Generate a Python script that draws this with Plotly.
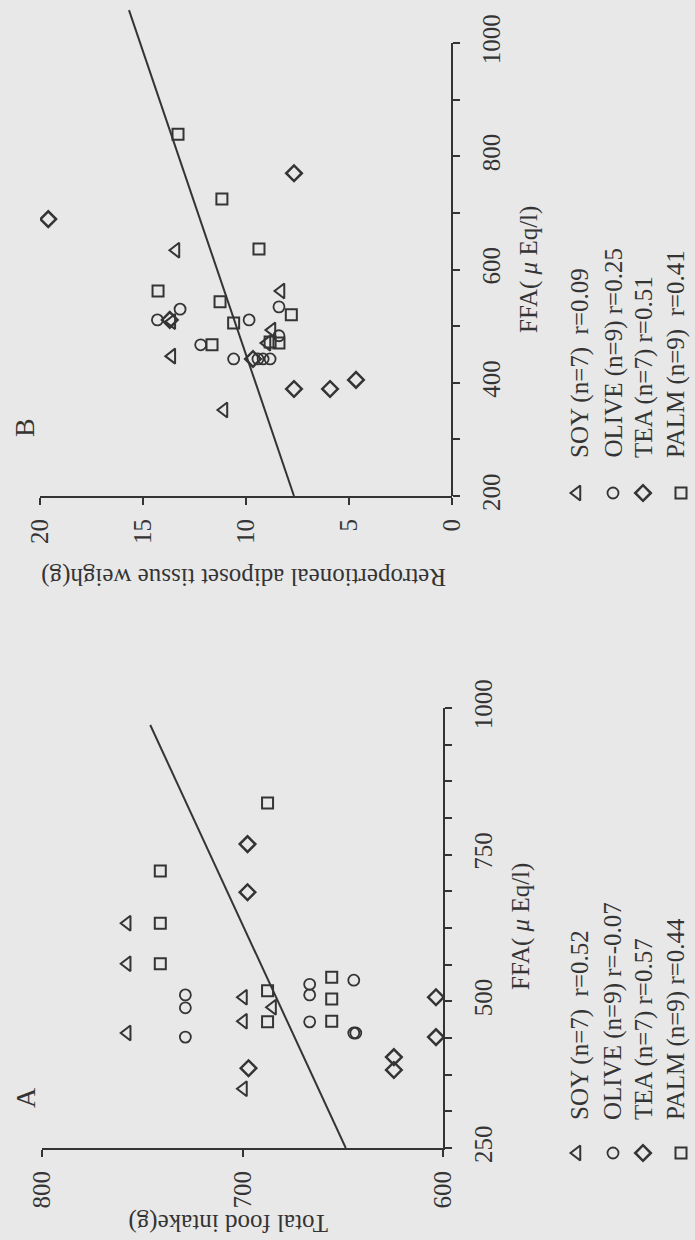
import plotly.graph_objects as go

# ---- Panel A: total food intake vs FFA ----
soy_a_ffa = [633, 564, 446, 507, 466, 351, 490]
soy_a_food = [757.5, 757.5, 757.5, 699.5, 699.5, 699.5, 685]
olive_a_ffa = [511, 489, 439, 529, 511, 465, 536, 446, 446]
olive_a_food = [728.5, 728.5, 728.5, 666.5, 666.5, 666.5, 644.5, 644.5, 643.5]
tea_a_ffa = [768, 686, 386, 405, 383, 507, 439]
tea_a_food = [697.5, 697.5, 697, 624.5, 624.5, 603.5, 603.5]
palm_a_ffa = [722, 838, 633, 564, 518, 465, 541, 504, 466]
palm_a_food = [741, 687.5, 741, 741, 687.5, 687.5, 655.5, 655.5, 655.5]
fit_a_ffa = [250, 971]
fit_a_food = [648.5, 746]

# ---- Panel B: retroperitoneal adipose tissue weight vs FFA ----
soy_b_ffa = [634, 562, 447, 352, 493, 508, 470]
soy_b_wt = [13.4, 8.3, 13.6, 11.07, 8.74, 13.6, 8.98]
olive_b_ffa = [530, 511, 511, 534, 483, 442, 442, 442, 442, 467]
olive_b_wt = [13.2, 14.3, 9.85, 8.4, 8.4, 10.6, 9.42, 9.17, 8.83, 12.2]
tea_b_ffa = [689, 770, 511, 442, 389, 389, 405]
tea_b_wt = [19.6, 7.67, 13.7, 9.66, 7.67, 5.92, 4.66]
palm_b_ffa = [839, 724.5, 562, 543, 636, 505.5, 520, 472, 470, 467]
palm_b_wt = [13.3, 11.17, 14.27, 11.26, 9.37, 10.6, 7.8, 8.83, 8.4, 11.65]
fit_b_ffa = [200, 1058]
fit_b_wt = [7.67, 15.68]

# ---- tick values / labels ----
food_ticks = [600, 700, 800]
ffa_a_ticks = [250 + 62.5 * k for k in range(13)]
ffa_a_labels = ["250", "", "", "", "500", "", "", "", "750", "", "", "", "1000"]
wt_ticks = [0, 5, 10, 15, 20]
ffa_b_ticks = [200, 300, 400, 500, 600, 700, 800, 900, 1000]
ffa_b_labels = ["200", "", "400", "", "600", "", "800", "", "1000"]

groups = ["SOY", "OLIVE", "TEA", "PALM"]
legend_a = ["SOY (n=7)  r=0.52", "OLIVE (n=9) r=-0.07", "TEA (n=7) r=0.57", "PALM (n=9) r=0.44"]
legend_b = ["SOY (n=7)  r=0.09", "OLIVE (n=9) r=0.25", "TEA (n=7) r=0.51", "PALM (n=9)  r=0.41"]

INK = "#343434"
BG = "#e8e8e8"
FONT = "Liberation Serif"
W, H = 695, 1240

symbols = {"SOY": "triangle-left-open", "OLIVE": "circle-open",
           "TEA": "diamond-open", "PALM": "square-open"}
sizes = {"SOY": 13, "OLIVE": 11, "TEA": 12, "PALM": 11}
widths = {"SOY": 2, "OLIVE": 1.8, "TEA": 2.5, "PALM": 2}


def px(x):
    return x / W


def py(y):
    return 1 - y / H


def marker(g):
    return dict(symbol=symbols[g], size=sizes[g], color=INK, line=dict(color=INK, width=widths[g]))


fig = go.Figure()

a_data = {"SOY": (soy_a_food, soy_a_ffa), "OLIVE": (olive_a_food, olive_a_ffa),
          "TEA": (tea_a_food, tea_a_ffa), "PALM": (palm_a_food, palm_a_ffa)}
b_data = {"SOY": (soy_b_wt, soy_b_ffa), "OLIVE": (olive_b_wt, olive_b_ffa),
          "TEA": (tea_b_wt, tea_b_ffa), "PALM": (palm_b_wt, palm_b_ffa)}

fig.add_trace(go.Scatter(x=fit_a_food, y=fit_a_ffa, mode="lines",
                         line=dict(color=INK, width=2), xaxis="x", yaxis="y", showlegend=False))
fig.add_trace(go.Scatter(x=fit_b_wt, y=fit_b_ffa, mode="lines",
                         line=dict(color=INK, width=2), xaxis="x2", yaxis="y2", showlegend=False))
for g in groups:
    xa, ya = a_data[g]
    fig.add_trace(go.Scatter(x=xa, y=ya, mode="markers", marker=marker(g),
                             xaxis="x", yaxis="y", showlegend=False, name=g))
    xb, yb = b_data[g]
    fig.add_trace(go.Scatter(x=xb, y=yb, mode="markers", marker=marker(g),
                             xaxis="x2", yaxis="y2", showlegend=False, name=g))

# key symbols, placed on a full-page pixel axis
key_rows = [577, 613, 643, 681]
text_rows = [580, 613, 644, 676]
for i, g in enumerate(groups):
    fig.add_trace(go.Scatter(x=[key_rows[i], key_rows[i]], y=[1153, 493], mode="markers",
                             marker=marker(g), xaxis="x3", yaxis="y3", showlegend=False))

tickfont = dict(family=FONT, size=25, color=INK)
common = dict(showgrid=False, zeroline=False, showline=True, linecolor=INK, linewidth=2,
              ticks="outside", ticklen=7, tickwidth=2, tickcolor=INK, automargin=False,
              tickangle=-90, tickfont=tickfont)
hidden = dict(showgrid=False, zeroline=False, showline=False, showticklabels=False,
              ticks="", automargin=False)

fig.update_layout(
    template="none",
    width=W, height=H,
    margin=dict(l=0, r=0, t=0, b=0, pad=0),
    paper_bgcolor=BG, plot_bgcolor="rgba(0,0,0,0)",
    showlegend=False,
    xaxis=dict(domain=[px(42), px(443)], range=[800, 600], anchor="y",
               tickvals=food_ticks, ticklabelstandoff=4, **common),
    yaxis=dict(domain=[py(1148), py(708)], range=[250, 1000], anchor="x", side="right",
               tickvals=ffa_a_ticks, ticktext=ffa_a_labels, ticklabelstandoff=10, **common),
    xaxis2=dict(domain=[px(40), px(452)], range=[20, 0], anchor="y2",
                tickvals=wt_ticks, ticklabelstandoff=4, **common),
    yaxis2=dict(domain=[py(496), py(496 - 870 * 453 / 800)], range=[200, 1070], anchor="x2",
                side="right", tickvals=ffa_b_ticks, ticktext=ffa_b_labels,
                ticklabelstandoff=10, **{**common, "showline": False}),
    xaxis3=dict(domain=[0, 1], range=[0, W], anchor="y3", **hidden),
    yaxis3=dict(domain=[0, 1], range=[H, 0], anchor="x3", **hidden),
)

# FFA axis line of panel B stops at 1000 while the fit runs past it
fig.add_shape(type="line", xref="paper", yref="y2", x0=px(452), x1=px(452), y0=200, y1=1000,
              line=dict(color=INK, width=2))

ann = []


def text(x, y, s, size, angle, xanchor="center", yanchor="middle"):
    ann.append(dict(x=px(x), y=py(y), xref="paper", yref="paper", text=s, showarrow=False,
                    textangle=angle, xanchor=xanchor, yanchor=yanchor,
                    font=dict(family=FONT, size=size, color=INK)))


text(25, 1098, "A", 28, -90)
text(24, 428, "B", 28, -90)
text(228, 1223, "Total food intake(g)", 25, 180)
text(244, 577, "Retropertioneal adiposet tissue weigh(g)", 25, 180)
text(521, 927, "FFA( <i>μ</i> Eq/l)", 25, -90)
text(529, 270, "FFA( <i>μ</i> Eq/l)", 25, -90)
for i in range(4):
    text(text_rows[i], 1122, legend_a[i], 25, -90, yanchor="bottom")
    text(text_rows[i], 460, legend_b[i], 25, -90, yanchor="bottom")

fig.update_layout(annotations=ann)
fig.write_html("out.html")
